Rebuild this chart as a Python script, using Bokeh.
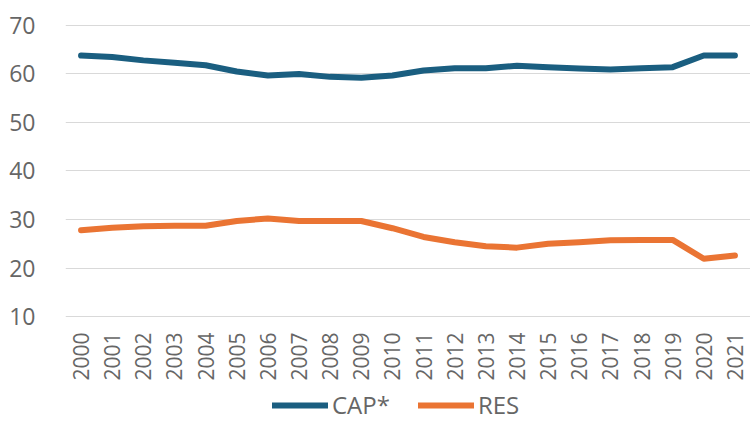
import math
from bokeh.plotting import figure
from bokeh.models import Range1d, Legend, LegendItem, FactorRange
from bokeh.embed import file_html
from bokeh.resources import INLINE

years = [str(y) for y in range(2000, 2022)]
cap = [63.8, 63.5, 62.8, 62.3, 61.8, 60.5, 59.7, 60.0, 59.4, 59.2, 59.7,
       60.7, 61.2, 61.2, 61.7, 61.4, 61.1, 60.9, 61.2, 61.4, 63.8, 63.8]
res = [27.8, 28.3, 28.6, 28.7, 28.7, 29.7, 30.2, 29.7, 29.7, 29.7, 28.2,
       26.4, 25.3, 24.5, 24.2, 25.0, 25.3, 25.7, 25.8, 25.8, 21.9, 22.6]
y_ticks = [10, 20, 30, 40, 50, 60, 70]

FONT = "Open Sans"
TXT = "#666666"

p = figure(frame_width=685, frame_height=402, x_range=FactorRange(*years),
           y_range=Range1d(-12.46, 70.4), output_backend="svg",
           toolbar_location=None, min_border_left=65, min_border_right=0,
           min_border_top=23, min_border_bottom=0)
p.outline_line_color = None
p.background_fill_color = "white"
p.border_fill_color = "white"

r1 = p.line(years, cap, line_color="#1a5e80", line_width=6, line_cap="round", line_join="round")
r2 = p.line(years, res, line_color="#ea7433", line_width=6, line_cap="round", line_join="round")

p.xgrid.grid_line_color = None
p.ygrid.grid_line_color = "#d9d9d9"
p.ygrid.grid_line_width = 1.2
p.yaxis.ticker = y_ticks
p.yaxis.axis_line_color = None
p.yaxis.major_tick_line_color = None
p.yaxis.minor_tick_line_color = None
p.yaxis.major_label_text_font = FONT
p.yaxis.major_label_text_font_size = "23px"
p.yaxis.major_label_text_color = TXT
p.yaxis.major_label_standoff = 24

p.xaxis.fixed_location = 9.6
p.xaxis.axis_line_color = None
p.xaxis.major_tick_line_color = None
p.xaxis.major_tick_out = 0
p.xaxis.major_tick_in = 0
p.xaxis.major_label_orientation = math.pi / 2
p.xaxis.major_label_text_font = FONT
p.xaxis.major_label_text_font_size = "21px"
p.xaxis.major_label_text_color = TXT
p.xaxis.major_label_standoff = 14

legend = Legend(items=[LegendItem(label="CAP*", renderers=[r1]),
                       LegendItem(label="RES", renderers=[r2])],
                orientation="horizontal", location=(207, 4),
                label_text_font=FONT, label_text_font_size="24px",
                label_text_color=TXT, glyph_width=56, glyph_height=22,
                spacing=28, label_standoff=4, border_line_color=None,
                background_fill_alpha=0, margin=0, padding=2)
p.add_layout(legend)

open("out.html", "w").write(file_html(p, INLINE))
